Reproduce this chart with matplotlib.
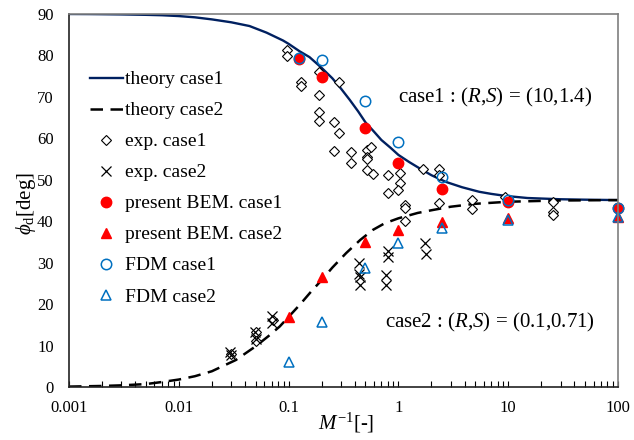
import numpy as np
import matplotlib
matplotlib.use('Agg')
from matplotlib import pyplot as plt

plt.rcParams['font.family'] = ['Liberation Serif', 'DejaVu Serif']
plt.rcParams['mathtext.fontset'] = 'custom'
plt.rcParams['mathtext.rm'] = 'Liberation Serif'
plt.rcParams['mathtext.it'] = 'Liberation Serif:italic'

# theory curves
th1_x = [0.001, 0.0015, 0.002, 0.003, 0.005, 0.007, 0.01, 0.014, 0.02, 0.03, 0.044,
         0.063, 0.089, 0.1, 0.126, 0.155, 0.2, 0.25, 0.3, 0.36, 0.43, 0.5, 0.6,
         0.7, 0.85, 1.0, 1.25, 1.55, 2.0, 2.7, 3.8, 5.45, 7.0, 9.5, 15, 30, 50, 100]
th1_y = [90.0, 89.98, 89.95, 89.9, 89.8, 89.7, 89.5, 89.2, 88.7, 88.0, 87.1,
         85.5, 83.6, 82.8, 81.0, 79.6, 77.0, 74.5, 72.0, 69.3, 66.5, 63.9, 61.6,
         59.6, 57.7, 56.0, 54.3, 52.8, 51.1, 49.5, 48.2, 47.1, 46.6, 46.1, 45.6,
         45.3, 45.2, 45.1]

th2_x = [0.001, 0.002, 0.003, 0.005, 0.007, 0.01, 0.014, 0.02, 0.033, 0.05, 0.065,
         0.083, 0.126, 0.16, 0.2, 0.25, 0.334, 0.45, 0.585, 0.75, 1.0, 1.5, 2.05,
         3.0, 5.0, 10, 20, 30, 100]
th2_y = [0.1, 0.25, 0.4, 0.7, 1.2, 1.8, 2.6, 3.8, 6.5, 9.8, 12.2,
         14.6, 19.8, 23.0, 25.8, 28.8, 32.3, 35.5, 37.9, 39.5, 40.7, 42.0, 42.7,
         43.5, 44.2, 44.7, 44.9, 45.0, 45.1]

# experiments
exp1_x = [0.097, 0.096, 0.13, 0.13, 0.188, 0.29, 0.188, 0.19, 0.188, 0.26, 0.29,
          0.26, 0.37, 0.37, 0.515, 0.56, 0.515, 0.52, 0.515, 0.59, 0.8, 1.04,
          1.04, 1.0, 0.8, 1.66, 2.36, 2.36, 1.16, 1.16, 1.16, 2.36, 4.7, 4.7,
          9.4, 25.6, 25.6, 25.6, 0.03, 0.05, 0.05, 0.072]
exp1_y = [81.2, 79.9, 73.5, 72.7, 75.9, 73.7, 70.5, 66.3, 64.2, 64.0, 61.2,
          57.0, 56.6, 54.0, 57.2, 57.8, 55.6, 55.0, 52.4, 51.4, 51.2, 51.6,
          49.2, 47.5, 46.7, 52.5, 52.6, 51.2, 43.9, 43.1, 40.1, 44.3, 45.1, 42.9,
          45.9, 44.7, 42.3, 41.5, 8.0, 13.3, 11.0, 16.2]

exp2_x = [0.029, 0.03, 0.049, 0.05, 0.071, 0.071, 0.44, 0.44, 0.45, 0.45,
          0.8, 0.8, 0.77, 0.77, 1.76, 1.77]
exp2_y = [8.5, 7.7, 13.3, 11.7, 17.1, 15.5, 29.9, 27.3, 26.5, 24.6,
          32.9, 31.4, 27.0, 24.6, 34.7, 32.1]

# present BEM
bem_x = [0.125, 0.2, 0.5, 1, 2.5, 10, 100]
bem1_y = [79.2, 74.7, 62.6, 54.1, 47.7, 44.7, 43.1]
bem2_x = [0.1, 0.2, 0.5, 1, 2.5, 10, 100]
bem2_y = [17.0, 26.6, 35.1, 38.0, 39.9, 40.7, 41.1]

# FDM
fdm1_y = [79.3, 78.9, 68.9, 59.0, 50.6, 45.1, 43.3]
fdm2_y = [6.1, 15.8, 28.6, 34.7, 38.3, 40.3, 40.9]

fig = plt.figure(figsize=(6.34, 4.4), dpi=100)
ax = fig.add_axes([69 / 634, 1 - 387 / 440, 549 / 634, 373 / 440])

ax.plot(th1_x, th1_y, color='#002060', lw=1.7, label='theory case1')
ax.plot(th2_x, th2_y, color='black', lw=1.8, dashes=(5, 3), label='theory case2')
ax.plot(exp1_x, exp1_y, 'D', ms=5.5, mfc='white', mec='black', mew=0.8,
        ls='none', label='exp. case1', clip_on=False)
ax.plot(exp2_x, exp2_y, 'x', ms=7, color='black', mew=0.9,
        ls='none', label='exp. case2', clip_on=False)
ax.plot(bem_x, bem1_y, 'o', ms=7.5, color='#ff0000', ls='none',
        label='present BEM. case1', clip_on=False)
ax.plot(bem2_x, bem2_y, '^', ms=7.5, color='#ff0000', ls='none',
        label='present BEM. case2', clip_on=False)
ax.plot(bem_x, fdm1_y, 'o', ms=7.5, mfc='none', mec='#0070c0', mew=1.1,
        ls='none', label='FDM case1', clip_on=False)
ax.plot(bem2_x, fdm2_y, '^', ms=7.5, mfc='none', mec='#0070c0', mew=1.1,
        ls='none', label='FDM case2', clip_on=False)

ax.set_xscale('log')
ax.set_xlim(0.001, 100)
ax.set_ylim(0, 90)
ax.set_yticks(range(0, 91, 10))
ax.set_xticks([0.001, 0.01, 0.1, 1, 10, 100])
ax.set_xticklabels(['0.001', '0.01', '0.1', '1', '10', '100'])
ax.tick_params(axis='x', which='both', direction='in', length=4, width=0.8,
               labelsize=12, pad=9)
ax.tick_params(axis='y', length=0, labelsize=12, pad=11)

for s in ['left', 'bottom']:
    ax.spines[s].set_color('#222222')
    ax.spines[s].set_linewidth(1.2)
for s in ['top', 'right']:
    ax.spines[s].set_color('#7f7f7f')
    ax.spines[s].set_linewidth(1.2)

ax.set_xlabel('$M^{-1}$[-]', fontsize=15)
ax.set_ylabel(r'$\phi_{\rm d}$[deg]', fontsize=15)
ax.xaxis.set_label_coords(0.505, -0.064)
ax.yaxis.set_label_coords(-0.056, 0.493)

ax.text(0.599, 0.775, 'case1 : ($R$,$S$) = (10,1.4)', transform=ax.transAxes,
        fontsize=15, va='center', ha='left')
ax.text(0.576, 0.174, 'case2 : ($R$,$S$) = (0.1,0.71)', transform=ax.transAxes,
        fontsize=15, va='center', ha='left')

ax.legend(loc='upper left', bbox_to_anchor=(0.038, 0.848), frameon=False,
          fontsize=14, handlelength=1.7, handletextpad=0.1, labelspacing=0.69,
          borderpad=0, borderaxespad=0)

fig.savefig('out.png', dpi=100)
